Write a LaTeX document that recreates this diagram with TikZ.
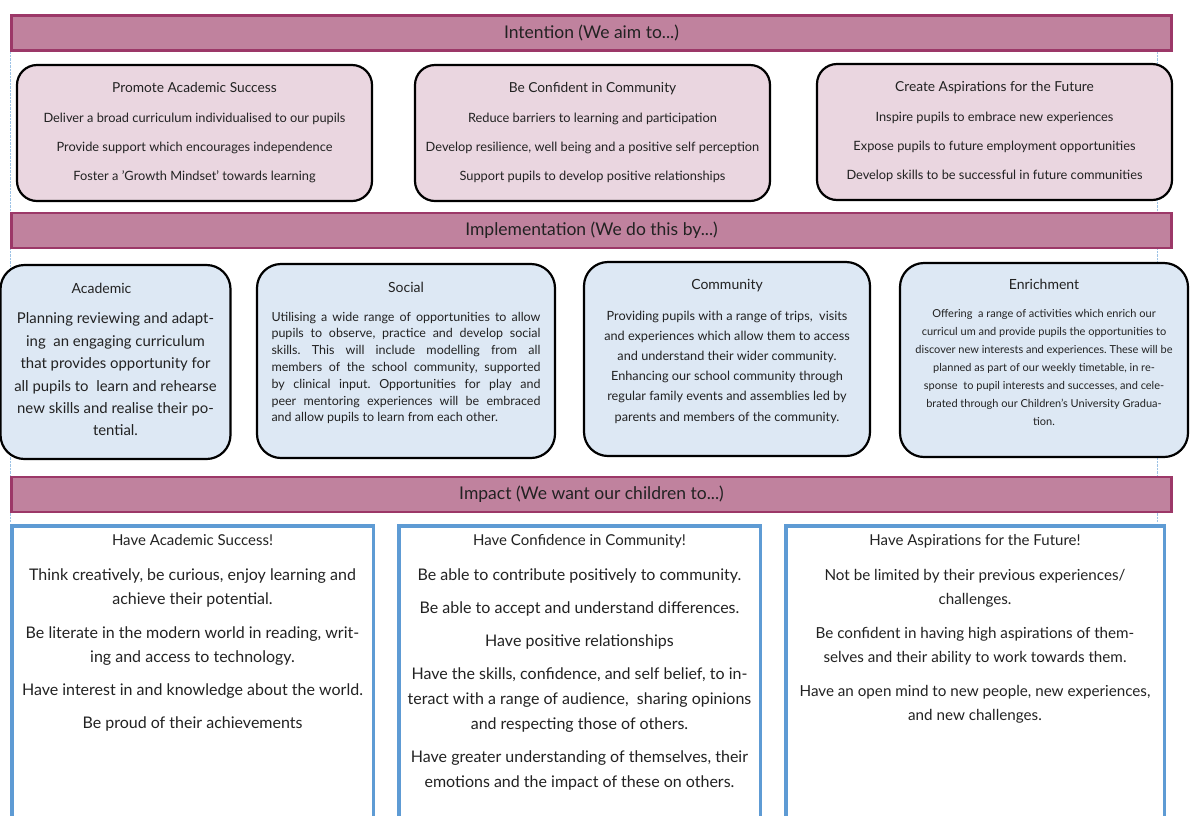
\documentclass[tikz,border=0pt]{standalone}
\usepackage{fontspec}
\setmainfont{Lato}
\usepackage{xcolor}
\usetikzlibrary{positioning}
\definecolor{bannerfill}{HTML}{C0829E}
\definecolor{bannerline}{HTML}{9C3868}
\definecolor{aimfill}{HTML}{EAD6E0}
\definecolor{dofill}{HTML}{DDE8F4}
\definecolor{wantline}{HTML}{5E9BD4}
\definecolor{guide}{HTML}{9DC3E6}
\definecolor{ink}{HTML}{222222}
\frenchspacing

\begin{document}
\begin{tikzpicture}[x=1pt,y=-1pt,
  banner/.style={rectangle,draw=bannerline,fill=bannerfill,line width=2.5pt,minimum width=1160pt,minimum height=35pt,inner sep=0pt,text=ink,font=\fontsize{17.5}{19}\selectfont},
  aimbox/.style={rectangle,rounded corners=20pt,draw,line width=2.2pt,fill=aimfill,minimum width=355pt,minimum height=136pt},
  dobox/.style={rectangle,rounded corners=24pt,draw,line width=2.2pt,fill=dofill,minimum height=194pt},
  wantbox/.style={rectangle,draw=wantline,line width=3.5pt,fill=white,anchor=north,minimum height=320pt},
  head/.style={inner sep=0pt,text height=9pt,text depth=2.5pt,text=ink},
  body/.style={inner sep=0pt,align=center,text=ink}]
\useasboundingbox (0,0) rectangle (1191,815);
\clip (0,0) rectangle (1191,815);

% page margin guides
\draw [guide,densely dotted,thin] (10,52) -- (10,522);
\draw [guide,densely dotted,thin] (1157,52) -- (1157,522);

% intention
\node [banner] (aim) at (591.5,33) {Intention (We aim to...)};
\node [aimbox] (aim1) at (194.5,133) {};
\node [aimbox] (aim2) at (592.5,133) {};
\node [aimbox] (aim3) at (994.5,132) {};

\node [head,font=\fontsize{13.75}{15}\selectfont,below=19pt,at=(aim1.north)] (aim1h) {Promote Academic Success};
\node [body,font=\fontsize{12.8}{29}\selectfont,below=20.3pt,at=(aim1h.base)] (aim1b) {Deliver a broad curriculum individualised to our pupils\\
  Provide support which encourages independence\\
  Foster a 'Growth Mindset' towards learning};
\node [head,font=\fontsize{13.75}{15}\selectfont,below=19pt,at=(aim2.north)] (aim2h) {Be Confident in Community};
\node [body,font=\fontsize{12.8}{29}\selectfont,below=20.3pt,at=(aim2h.base)] (aim2b) {Reduce barriers to learning and participation\\
  Develop resilience, well being and a positive self perception\\
  Support pupils to develop positive relationships};
\node [head,font=\fontsize{13.75}{15}\selectfont,below=19pt,at=(aim3.north)] (aim3h) {Create Aspirations for the Future};
\node [body,font=\fontsize{12.8}{29}\selectfont,below=20.3pt,at=(aim3h.base)] (aim3b) {Inspire pupils to embrace new experiences\\
  Expose pupils to future employment opportunities\\
  Develop skills to be successful in future communities};

% implementation
\node [banner] (do) at (591.5,230.5) {Implementation (We do this by...)};
\node [dobox,minimum width=230pt] (do1) at (115.5,362) {};
\node [dobox,minimum width=298pt] (do2) at (406,361) {};
\node [dobox,minimum width=286pt] (do3) at (727,359) {};
\node [dobox,minimum width=288pt] (do4) at (1044,360) {};

\node [head,font=\fontsize{14}{15}\selectfont,below=20pt,at=(do1.north),xshift=-14pt] (do1h) {Academic};
\node [body,font=\fontsize{14.9}{22.4}\selectfont,below=19.7pt,at=(do1h.base),xshift=14pt] (do1b) {Planning reviewing and adapt-\\
  ing\ \ an engaging curriculum\\
  that provides opportunity for\\
  all pupils to\ \ learn and rehearse\\
  new skills and realise their po-\\
  tential.};
\node [head,font=\fontsize{14}{15}\selectfont,below=20pt,at=(do2.north)] (do2h) {Social};
\node [body,align=justify,text width=269pt,font=\fontsize{12.5}{16.8}\selectfont,below=19.5pt,at=(do2h.base)] (do2b) {Utilising a wide range of opportunities to allow\linebreak
  pupils to observe, practice and develop social\linebreak
  skills. This will include modelling from all\linebreak
  members of the school community, supported\linebreak
  by clinical input. Opportunities for play and\linebreak
  peer mentoring experiences will be embraced\linebreak
  and allow pupils to learn from each other.};
\node [head,font=\fontsize{14}{15}\selectfont,below=19pt,at=(do3.north)] (do3h) {Community};
\node [body,font=\fontsize{12.7}{20.2}\selectfont,below=21.5pt,at=(do3h.base)] (do3b) {Providing pupils with a range of trips,\ \ visits\\
  and experiences which allow them to access\\
  and understand their wider community.\\
  Enhancing our school community through\\
  regular family events and assemblies led by\\
  parents and members of the community.};
\node [head,font=\fontsize{14}{15}\selectfont,below=18pt,at=(do4.north)] (do4h) {Enrichment};
\node [body,font=\fontsize{11}{18}\selectfont,below=20pt,at=(do4h.base)] (do4b) {Offering\ \ a range of activities which enrich our\\
  curricul um and provide pupils the opportunities to\\
  discover new interests and experiences. These will be\\
  planned as part of our weekly timetable, in re-\\
  sponse\ \ to pupil interests and successes, and cele-\\
  brated through our Children's University Gradua-\\
  tion.};

% impact
\node [banner] (want) at (591.5,494.5) {Impact (We want our children to...)};
\node [wantbox,minimum width=361.5pt] (want1) at (192.5,524) {};
\node [wantbox,minimum width=361.5pt] (want2) at (579.5,524) {};
\node [wantbox,minimum width=378.5pt] (want3) at (975,524) {};

\node [head,font=\fontsize{15}{16}\selectfont,below=12.4pt,at=(want1.north)] (want1h) {Have Academic Success!};
\node [body,font=\fontsize{16}{24}\selectfont,below=22.9pt,at=(want1h.base)] (want1b) {Think creatively, be curious, enjoy learning and\\
  achieve their potential.\\[10pt]
  Be literate in the modern world in reading, writ-\\
  ing and access to technology.\\[9pt]
  Have interest in and knowledge about the world.\\[9pt]
  Be proud of their achievements};
\node [head,font=\fontsize{15}{16}\selectfont,below=12.4pt,at=(want2.north)] (want2h) {Have Confidence in Community!};
\node [body,font=\fontsize{16}{25}\selectfont,below=22.9pt,at=(want2h.base)] (want2b) {Be able to contribute positively to community.\\[8pt]
  Be able to accept and understand differences.\\[8pt]
  Have positive relationships\\[8pt]
  Have the skills, confidence, and self belief, to in-\\
  teract with a range of audience,\ \ sharing opinions\\
  and respecting those of others.\\[8pt]
  Have greater understanding of themselves, their\\
  emotions and the impact of these on others.};
\node [head,font=\fontsize{15}{16}\selectfont,below=12.4pt,at=(want3.north)] (want3h) {Have Aspirations for the Future!};
\node [body,font=\fontsize{15.2}{24}\selectfont,below=23.4pt,at=(want3h.base)] (want3b) {Not be limited by their previous experiences/\\
  challenges.\\[10pt]
  Be confident in having high aspirations of them-\\
  selves and their ability to work towards them.\\[10pt]
  Have an open mind to new people, new experiences,\\
  and new challenges.};
\end{tikzpicture}
\end{document}
